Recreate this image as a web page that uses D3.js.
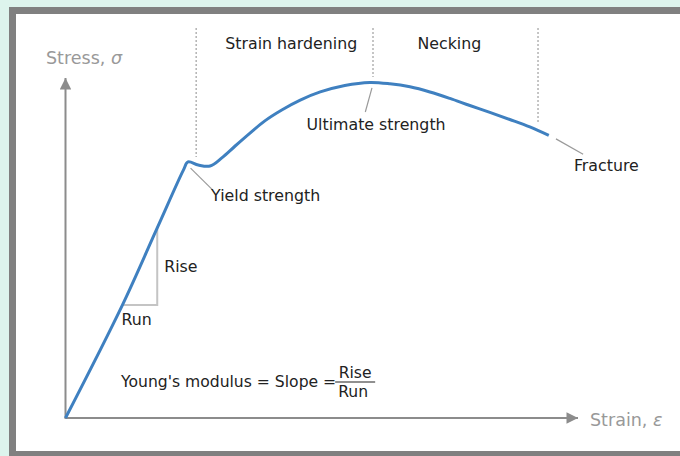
<!DOCTYPE html>
<html>
<head>
<meta charset="utf-8">
<script src="https://cdn.jsdelivr.net/npm/d3@7/dist/d3.min.js"></script>
<style>
  html, body { margin: 0; padding: 0; background: #ddf4ed; }
  svg { display: block; }
  text { font-family: "DejaVu Sans", sans-serif; }
</style>
</head>
<body>
<svg id="chart" width="680" height="456"></svg>
<script>
// Engineering stress–strain curve of a ductile metal (arbitrary units, 0–100)
const strain = [0, 11.1, 17.9, 23.0, 23.9, 25.9, 28.2, 30.5, 33.1, 36.0, 38.9, 42.2, 45.8,
                49.7, 54.5, 59.4, 63.3, 67.2, 71.1, 75.0, 78.9, 82.8, 86.7, 90.6, 94.3];
const stress = [0, 33.2, 55.9, 72.9, 75.3, 74.4, 74.1, 76.5, 80.0, 83.8, 87.4, 90.6, 93.5,
                95.9, 97.8, 98.7, 98.3, 97.4, 95.9, 94.0, 91.9, 89.9, 87.8, 85.6, 83.1];

// Boundaries between deformation regimes (strain) and where each divider stops
const phaseBoundaries = [25.5, 60.0, 92.2];
const boundaryEnds = [76.8, 100.3, 86.5];
const boundaryTop = 114.7;

// Regime names and their centre strain
const phaseNames = ["Strain hardening", "Necking"];
const phaseCentres = [44.05, 74.9];
const phaseLabelStress = 108.5;

// Point annotations: leader from [x0,y0] to [x1,y1], label anchored at [lx,ly]
const annoText = ["Yield strength", "Ultimate strength", "Fracture"];
const annoFrom = [[24.4, 73.5], [59.8, 97.1], [95.7, 82.1]];
const annoTo = [[28.7, 67.1], [58.5, 90.0], [101.0, 77.6]];
const annoLabel = [[28.4, 63.9], [60.6, 84.7], [99.2, 72.6]];
const annoAnchor = ["start", "middle", "start"];

// Rise / run triangle on the elastic segment (indices into the curve arrays)
const runIndex = 1, riseIndex = 2;

// Axis titles
const axisTitles = { y: "Stress, ", yVar: "σ", x: "Strain, ", xVar: "ε" };

const svg = d3.select("#chart");

// Frame around the panel
svg.append("rect")
  .attr("x", 12.5).attr("y", 10.5).attr("width", 720).attr("height", 444)
  .attr("fill", "#ffffff").attr("stroke", "#808080").attr("stroke-width", 7);

const x = d3.scaleLinear().domain([0, 100]).range([65.5, 578]);
const y = d3.scaleLinear().domain([0, 100]).range([418, 78]);

const axisColor = "#8c8c8c";

// Axes with arrowheads
svg.append("defs").append("marker")
  .attr("id", "arrow").attr("viewBox", "0 0 10 10")
  .attr("refX", 10).attr("refY", 5)
  .attr("markerWidth", 15).attr("markerHeight", 11.5)
  .attr("markerUnits", "userSpaceOnUse")
  .attr("orient", "auto")
  .append("path").attr("d", "M0,0 L10,5 L0,10 Z").attr("fill", axisColor);

svg.append("line")
  .attr("x1", x(0)).attr("y1", y(0)).attr("x2", x(0)).attr("y2", y(100))
  .attr("stroke", axisColor).attr("stroke-width", 2).attr("marker-end", "url(#arrow)");
svg.append("line")
  .attr("x1", x(0) - 1).attr("y1", y(0)).attr("x2", x(100)).attr("y2", y(0))
  .attr("stroke", axisColor).attr("stroke-width", 2).attr("marker-end", "url(#arrow)");

const yTitle = svg.append("text")
  .attr("x", x(0) - 19.5).attr("y", y(100) - 14)
  .attr("fill", "#999").attr("font-size", 17.5);
yTitle.append("tspan").text(axisTitles.y);
yTitle.append("tspan").attr("font-style", "italic").text(axisTitles.yVar);

const xTitle = svg.append("text")
  .attr("x", x(100) + 12).attr("y", y(0) + 8)
  .attr("fill", "#999").attr("font-size", 17.5);
xTitle.append("tspan").text(axisTitles.x);
xTitle.append("tspan").attr("font-style", "italic").text(axisTitles.xVar);

// Regime dividers
svg.selectAll("line.boundary")
  .data(phaseBoundaries)
  .join("line")
  .attr("class", "boundary")
  .attr("x1", d => x(d)).attr("x2", d => x(d))
  .attr("y1", y(boundaryTop))
  .attr("y2", (d, i) => y(boundaryEnds[i]))
  .attr("stroke", "#b3b3b3").attr("stroke-width", 1.5)
  .attr("stroke-dasharray", "2,2");

const textColor = "#222";
const labelSize = 15.8;

svg.selectAll("text.phase")
  .data(phaseNames)
  .join("text")
  .attr("class", "phase")
  .attr("x", (d, i) => x(phaseCentres[i]))
  .attr("y", y(phaseLabelStress))
  .attr("text-anchor", "middle")
  .attr("font-size", labelSize).attr("fill", textColor)
  .text(d => d);

// Rise / run triangle
const pRun = [strain[runIndex], stress[runIndex]];
const pRise = [strain[riseIndex], stress[riseIndex]];
svg.append("path")
  .attr("d", `M${x(pRun[0])},${y(pRun[1])} L${x(pRise[0])},${y(pRun[1])} L${x(pRise[0])},${y(pRise[1])}`)
  .attr("fill", "none").attr("stroke", "#c4c4c4").attr("stroke-width", 2);

svg.append("text")
  .attr("x", x(pRise[0]) + 7).attr("y", (y(pRise[1]) + y(pRun[1])) / 2 + 5)
  .attr("font-size", labelSize).attr("fill", textColor).text("Rise");
svg.append("text")
  .attr("x", x(pRun[0]) - 1).attr("y", y(pRun[1]) + 20)
  .attr("font-size", labelSize).attr("fill", textColor).text("Run");

// Leaders
svg.selectAll("line.leader")
  .data(annoText)
  .join("line")
  .attr("class", "leader")
  .attr("x1", (d, i) => x(annoFrom[i][0])).attr("y1", (d, i) => y(annoFrom[i][1]))
  .attr("x2", (d, i) => x(annoTo[i][0])).attr("y2", (d, i) => y(annoTo[i][1]))
  .attr("stroke", "#9a9a9a").attr("stroke-width", 1.2);

// The curve
const line = d3.line()
  .x((d, i) => x(strain[i]))
  .y((d, i) => y(stress[i]))
  .curve(d3.curveCatmullRom.alpha(0.5));

svg.append("path")
  .datum(strain)
  .attr("d", line)
  .attr("fill", "none")
  .attr("stroke", "#3f80c0")
  .attr("stroke-width", 3)
  .attr("stroke-linejoin", "round");

svg.selectAll("text.anno")
  .data(annoText)
  .join("text")
  .attr("class", "anno")
  .attr("x", (d, i) => x(annoLabel[i][0]))
  .attr("y", (d, i) => y(annoLabel[i][1]))
  .attr("text-anchor", (d, i) => annoAnchor[i])
  .attr("font-size", labelSize).attr("fill", textColor)
  .text(d => d);

// Young's modulus formula
const formula = svg.append("g");
const fx = 121, fy = 387;
const lead = formula.append("text")
  .attr("x", fx).attr("y", fy)
  .attr("font-size", 15.6).attr("fill", textColor)
  .text("Young's modulus = Slope =");
const leadW = lead.node().getComputedTextLength();
const fracX = fx + leadW;
formula.append("line")
  .attr("x1", fracX - 1).attr("x2", fracX + 39)
  .attr("y1", fy - 5).attr("y2", fy - 5)
  .attr("stroke", textColor).attr("stroke-width", 1.2);
formula.append("text")
  .attr("x", fracX + 19).attr("y", fy - 9)
  .attr("text-anchor", "middle")
  .attr("font-size", 15.6).attr("fill", textColor).text("Rise");
formula.append("text")
  .attr("x", fracX + 17).attr("y", fy + 10)
  .attr("text-anchor", "middle")
  .attr("font-size", 15.6).attr("fill", textColor).text("Run");
</script>
</body>
</html>
